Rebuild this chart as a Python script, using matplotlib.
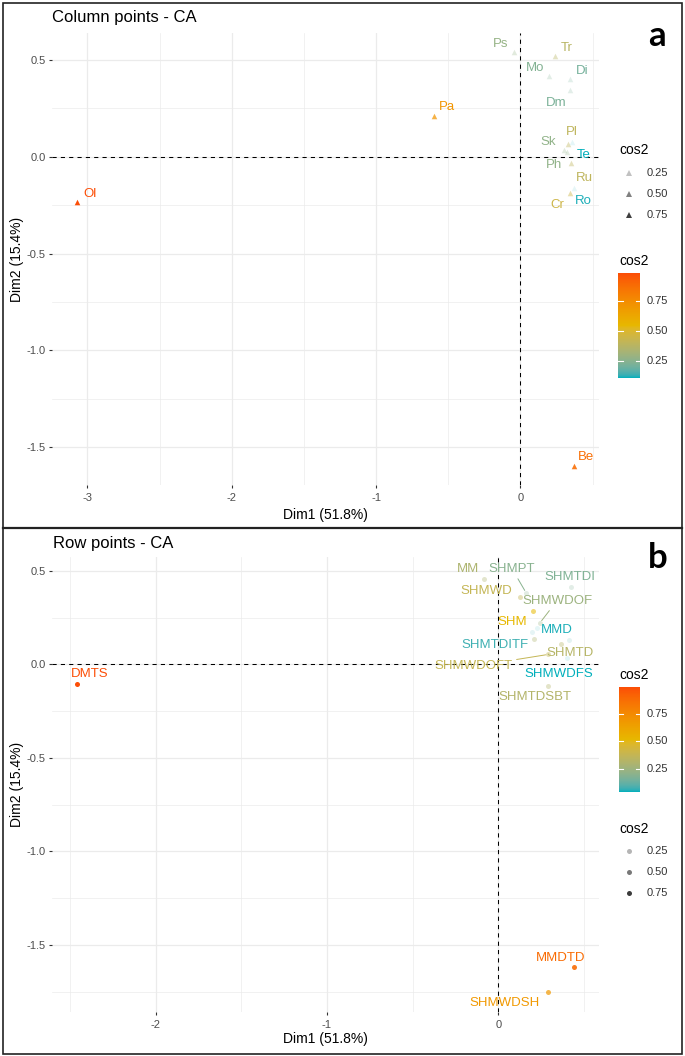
# CA biplot panels (columns / rows) with cos2 colouring, ggplot-ish look

import numpy as np
import matplotlib
matplotlib.use('Agg')
import matplotlib.pyplot as plt
from matplotlib.colors import ListedColormap, to_rgb
from matplotlib.lines import Line2D
from matplotlib.patches import Rectangle

plt.rcParams['font.family'] = ['Liberation Sans', 'DejaVu Sans']
plt.rcParams['axes.unicode_minus'] = False

# ---- data: column points (panel a)
col_names = ['Ol', 'Pa', 'Be', 'Ps', 'Tr', 'Mo', 'Di', 'Dm', 'Pl', 'Te', 'Sk', 'Ph', 'Ru', 'Ro', 'Cr']
col_dim1 = [-3.072, -0.596, 0.374, -0.042, 0.240, 0.201, 0.346, 0.346, 0.331, 0.358, 0.300, 0.324, 0.351, 0.369, 0.346]
col_dim2 = [-0.231, 0.212, -1.595, 0.541, 0.522, 0.420, 0.402, 0.346, 0.066, 0.079, 0.036, 0.027, -0.033, -0.162, -0.188]
col_cos2 = [0.99, 0.72, 0.88, 0.28, 0.38, 0.24, 0.21, 0.22, 0.40, 0.11, 0.27, 0.27, 0.40, 0.12, 0.45]

# ---- data: row points (panel b), two points have no visible label
row_names = ['DMTS', 'MM', 'SHMPT', 'SHMTDI', 'SHMWD', 'SHMWDOF', 'SHM', 'MMD', 'SHMTDITF', '',
             'SHMTD', '', 'SHMWDFS', 'SHMWDOFT', 'SHMTDSBT', 'MMDTD', 'SHMWDSH']
row_dim1 = [-2.456, -0.082, 0.162, 0.422, 0.127, 0.243, 0.201, 0.224, 0.195, 0.210,
            0.364, 0.414, 0.399, 0.292, 0.292, 0.444, 0.288]
row_dim2 = [-0.105, 0.456, 0.382, 0.411, 0.358, 0.222, 0.285, 0.196, 0.174, 0.134,
            0.107, 0.130, 0.032, 0.053, -0.114, -1.615, -1.749]
row_cos2 = [0.99, 0.30, 0.20, 0.18, 0.38, 0.25, 0.52, 0.06, 0.08, 0.30,
            0.33, 0.10, 0.05, 0.38, 0.32, 0.88, 0.68]

xlab = 'Dim1 (51.8%)'
ylab = 'Dim2 (15.4%)'
legend_breaks = [0.25, 0.50, 0.75]

# ---- label placement (pixels, y up) -- layout only
col_offsets = [(13, 8), (13, 9), (12, 9), (-14, 8), (12, 8), (-14, 8), (12, 8), (-14, -13),
               (4, 12), (12, -13), (-15, 8), (-13, -13), (13, -15), (10, -13), (-13, -12)]
row_offsets = [(12, 10), (-16, 10), (-14, 24), (-1, 10), (-34, 6), (17, 22), (-21, -11), (20, -2),
               (-37, -13), (0, 0), (9, -9), (0, 0), (-8, -16), (-75, -12), (-13, -11), (-14, 9), (-43, -11)]
row_segments = {'SHMPT', 'SHMWDOF', 'SHMWDOFT'}

W, H = 685, 1056


def hex_to_lab(h):
    rgb = np.array(to_rgb(h))
    lin = np.where(rgb <= 0.04045, rgb / 12.92, ((rgb + 0.055) / 1.055) ** 2.4)
    M = np.array([[0.4124, 0.3576, 0.1805], [0.2126, 0.7152, 0.0722], [0.0193, 0.1192, 0.9505]])
    xyz = M @ lin / np.array([0.95047, 1.0, 1.08883])
    f = np.where(xyz > 0.008856, np.cbrt(xyz), 7.787 * xyz + 16 / 116)
    return np.array([116 * f[1] - 16, 500 * (f[0] - f[1]), 200 * (f[1] - f[2])])


def lab_to_rgb(lab):
    L, a, b = lab[:, 0], lab[:, 1], lab[:, 2]
    fy = (L + 16) / 116
    f = np.stack([fy + a / 500, fy, fy - b / 200], axis=1)
    xyz = np.where(f ** 3 > 0.008856, f ** 3, (f - 16 / 116) / 7.787) * np.array([0.95047, 1.0, 1.08883])
    M = np.array([[0.4124, 0.3576, 0.1805], [0.2126, 0.7152, 0.0722], [0.0193, 0.1192, 0.9505]])
    lin = np.clip(xyz @ np.linalg.inv(M).T, 0, None)
    rgb = np.where(lin <= 0.0031308, 12.92 * lin, 1.055 * lin ** (1 / 2.4) - 0.055)
    return np.clip(rgb, 0, 1)


# gradient interpolated in Lab like ggplot's scale_color_gradientn
stops = [hex_to_lab(c) for c in ['#00AFBB', '#E7B800', '#FC4E07']]
t = np.linspace(0, 1, 256)
labs = np.array([stops[0] + (stops[1] - stops[0]) * (v * 2) if v < 0.5
                 else stops[1] + (stops[2] - stops[1]) * (v * 2 - 1) for v in t])
cmap = ListedColormap(lab_to_rgb(labs))


def px_rect(x0, y0, x1, y1):
    return [x0 / W, 1 - y1 / H, (x1 - x0) / W, (y1 - y0) / H]


def fx(x):
    return x / W


def fy(y):
    return 1 - y / H


fig = plt.figure(figsize=(W / 100, H / 100), dpi=100)


def setup_axes(ax, xlim, ylim, xmaj, xmin, ymaj, ymin):
    ax.set_xlim(*xlim)
    ax.set_ylim(*ylim)
    ax.set_xticks(xmaj)
    ax.set_xticklabels(['%g' % v for v in xmaj])
    ax.set_xticks(xmin, minor=True)
    ax.set_yticks(ymaj)
    ax.set_yticklabels(['%.1f' % v for v in ymaj])
    ax.set_yticks(ymin, minor=True)
    for s in ax.spines.values():
        s.set_visible(False)
    ax.grid(which='major', color='#EBEBEB', lw=0.9)
    ax.grid(which='minor', color='#EBEBEB', lw=0.5)
    ax.set_axisbelow(True)
    ax.tick_params(which='major', length=2.2, width=0.8, color='#333333',
                   labelsize=8, labelcolor='#4D4D4D', pad=2)
    ax.tick_params(axis='x', which='major', pad=3.5)
    ax.tick_params(which='minor', length=0)
    ax.axhline(0, color='black', lw=0.75, ls=(0, (4, 4)), zorder=1)
    ax.axvline(0, color='black', lw=0.75, ls=(0, (4, 4)), zorder=1)


def draw_points(ax, xs, ys, cos2, names, offsets, marker, size, segments=()):
    c = np.array(cos2)
    lo, hi = c.min(), c.max()
    norm = (c - lo) / (hi - lo)
    cols = cmap(norm)
    for i in range(len(xs)):
        rgba = list(cols[i])
        rgba[3] = 0.1 + 0.9 * norm[i]
        ax.scatter(xs[i], ys[i], marker=marker, s=size, color=rgba, lw=0, zorder=3)
        if names[i]:
            ap = None
            if names[i] in segments:
                ap = dict(arrowstyle='-', color=cols[i], lw=0.7, shrinkA=1, shrinkB=2)
            ax.annotate(names[i], (xs[i], ys[i]), xytext=offsets[i], textcoords='offset pixels',
                        ha='center', va='center', fontsize=9.5, color=cols[i], arrowprops=ap, zorder=4)
    return lo, hi


def alpha_legend(title_y, key_ys, marker, lo, hi, msize):
    fig.text(fx(619), fy(title_y), 'cos2', fontsize=10, ha='left', va='center')
    for v, y in zip(legend_breaks, key_ys):
        a = 0.1 + 0.9 * (v - lo) / (hi - lo)
        fig.add_artist(Line2D([fx(629.3)], [fy(y)], marker=marker, ms=msize, mew=0, ls='none',
                              color=(0, 0, 0, a), transform=fig.transFigure))
        fig.text(fx(646.7), fy(y), '%.2f' % v, fontsize=8, ha='left', va='center', color='#333333')


def colorbar(title_y, x0, x1, y0, y1, lo, hi):
    fig.text(fx(619), fy(title_y), 'cos2', fontsize=10, ha='left', va='center')
    cax = fig.add_axes(px_rect(x0, y0, x1, y1))
    grad = np.linspace(1, 0, 200)[:, None]
    cax.imshow(grad, aspect='auto', cmap=cmap, extent=[0, 1, lo, hi], vmin=0, vmax=1)
    cax.set_xlim(0, 1)
    cax.set_ylim(lo, hi)
    for v in legend_breaks:
        cax.plot([0, 0.2], [v, v], color='white', lw=0.8)
        cax.plot([0.8, 1], [v, v], color='white', lw=0.8)
        yy = y1 - (v - lo) / (hi - lo) * (y1 - y0)
        fig.text(fx(646.7), fy(yy), '%.2f' % v, fontsize=8, ha='left', va='center', color='#333333')
    cax.axis('off')


# ---- panel a
ax_a = fig.add_axes(px_rect(51.7, 33, 599, 485))
setup_axes(ax_a, (-3.247, 0.545), (-1.695, 0.640), [-3, -2, -1, 0], [-2.5, -1.5, -0.5, 0.5],
           [0.5, 0.0, -0.5, -1.0, -1.5], [0.25, -0.25, -0.75, -1.25])
lo_a, hi_a = draw_points(ax_a, col_dim1, col_dim2, col_cos2, col_names, col_offsets, '^', 16)
fig.text(fx(51.7), fy(17.5), 'Column points - CA', fontsize=12, ha='left', va='center')
fig.text(fx(325), fy(515), xlab, fontsize=10, ha='center', va='center')
fig.text(fx(17.5), fy(259), ylab, fontsize=10, ha='center', va='center', rotation=90)
alpha_legend(150, [172.7, 194.3, 215], '^', lo_a, hi_a, 4.2)
colorbar(261, 618.3, 640, 272.7, 377.7, lo_a, hi_a)

# ---- panel b
ax_b = fig.add_axes(px_rect(51.7, 556.7, 599.3, 1011.7))
setup_axes(ax_b, (-2.606, 0.589), (-1.856, 0.575), [-2, -1, 0], [-2.5, -1.5, -0.5, 0.5],
           [0.5, 0.0, -0.5, -1.0, -1.5], [0.25, -0.25, -0.75, -1.25, -1.75])
lo_b, hi_b = draw_points(ax_b, row_dim1, row_dim2, row_cos2, row_names, row_offsets, 'o', 13,
                         row_segments)
fig.text(fx(52.7), fy(543.3), 'Row points - CA', fontsize=12, ha='left', va='center')
fig.text(fx(325), fy(1039.3), xlab, fontsize=10, ha='center', va='center')
fig.text(fx(17.5), fy(784), ylab, fontsize=10, ha='center', va='center', rotation=90)
colorbar(675, 619, 640, 686.7, 791.7, lo_b, hi_b)
alpha_legend(828.7, [850.7, 871.7, 892.7], 'o', lo_b, hi_b, 3.6)

# panel letters and frames
fig.text(fx(657), fy(36), 'a', fontsize=25, fontweight='bold', family=['Lato', 'DejaVu Sans'],
         ha='center', va='center')
fig.text(fx(658), fy(558), 'b', fontsize=25, fontweight='bold', family=['Lato', 'DejaVu Sans'],
         ha='center', va='center')
fig.add_artist(Rectangle((fx(3), fy(1054)), fx(679), 1051 / H, fill=False, ec='#222222', lw=1.2,
                         transform=fig.transFigure))
fig.add_artist(Line2D([fx(3), fx(682)], [fy(527.5), fy(527.5)], color='#222222', lw=1.6,
                      transform=fig.transFigure))

fig.savefig('out.png', dpi=100)
